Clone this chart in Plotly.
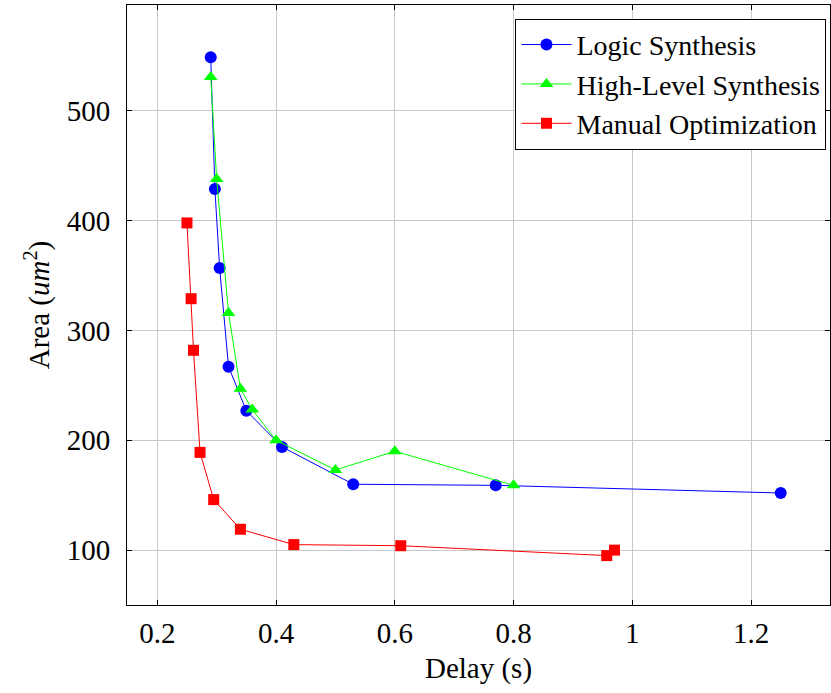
import plotly.graph_objects as go

logic_x = [0.29, 0.297, 0.305, 0.32, 0.35, 0.41, 0.53, 0.77, 1.25]
logic_y = [549, 429, 357, 267, 227, 194, 160, 159, 152]

hls_x = [0.29, 0.30, 0.32, 0.34, 0.36, 0.40, 0.50, 0.60, 0.80]
hls_y = [531, 438, 316, 247, 228, 200, 173, 190, 159]

manual_x = [0.25, 0.257, 0.261, 0.272, 0.295, 0.34, 0.43, 0.61, 0.957, 0.97]
manual_y = [398, 329, 282, 189, 146, 119, 105, 104, 95, 100]

FONT = "Liberation Serif"

fig = go.Figure()
fig.add_trace(go.Scatter(x=logic_x, y=logic_y, mode="lines+markers", name="Logic Synthesis",
                         line=dict(color="#0000ff", width=1),
                         marker=dict(symbol="circle", size=12, color="#0000ff")))
fig.add_trace(go.Scatter(x=hls_x, y=hls_y, mode="lines+markers", name="High-Level Synthesis",
                         line=dict(color="#00ff00", width=1),
                         marker=dict(symbol="triangle-up", size=12, color="#00ff00")))
fig.add_trace(go.Scatter(x=manual_x, y=manual_y, mode="lines+markers", name="Manual Optimization",
                         line=dict(color="#ff0000", width=1),
                         marker=dict(symbol="square", size=11, color="#ff0000")))

axis_common = dict(showline=True, linecolor="black", linewidth=1, mirror="allticks",
                   ticks="inside", ticklen=5, tickcolor="black",
                   showgrid=True, gridcolor="#c8c8c8", gridwidth=1, zeroline=False,
                   tickfont=dict(family=FONT, size=29, color="black"))

fig.update_layout(
    width=831, height=693,
    margin=dict(l=127, r=1, t=5, b=88),
    paper_bgcolor="white", plot_bgcolor="white",
    font=dict(family=FONT, size=29, color="black"),
    xaxis=dict(range=[0.149, 1.333], tickvals=[0.2, 0.4, 0.6, 0.8, 1.0, 1.2],
               ticktext=["0.2", "0.4", "0.6", "0.8", "1", "1.2"],
               ticklabelstandoff=2,
               title=dict(text="Delay (s)", font=dict(family=FONT, size=29), standoff=9),
               **axis_common),
    yaxis=dict(range=[50, 596.5], tickvals=[100, 200, 300, 400, 500],
               ticklabelstandoff=10,
               title=dict(text="Area (<i>um</i><sup>2</sup>)", font=dict(family=FONT, size=29), standoff=8),
               **axis_common),
    legend=dict(x=0.995, y=0.977, xanchor="right", yanchor="top",
                bordercolor="black", borderwidth=1, bgcolor="white",
                font=dict(family=FONT, size=28, color="black"), itemwidth=50,
                tracegroupgap=0),
    showlegend=True,
)

fig.write_html("out.html")
